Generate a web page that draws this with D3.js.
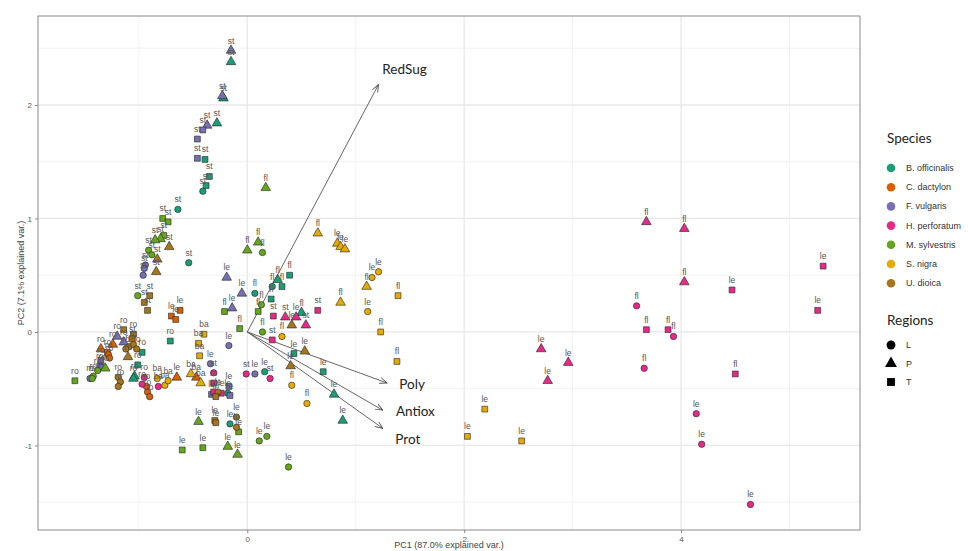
<!DOCTYPE html>
<html>
<head>
<meta charset="utf-8">
<script src="https://cdn.jsdelivr.net/npm/d3@7"></script>
<style>
  html, body { margin: 0; padding: 0; background: #fff; }
  svg { display: block; font-family: "Liberation Sans", Arial, sans-serif; }
</style>
</head>
<body>
<svg id="chart" width="968" height="551"></svg>
<script>
// ---- Species and region keys ----
const speciesNames = ["B. officinalis", "C. dactylon", "F. vulgaris", "H. perforatum",
                      "M. sylvestris", "S. nigra", "U. dioica"];
const speciesColors = ["#1B9E77", "#D95F02", "#7570B3", "#E7298A", "#66A61E", "#E6AB02", "#A6761D"];
const regionNames = ["L", "P", "T"];

// ---- PCA scores per species: [PC1, PC2, region, organ] ----
const bOfficinalis = [
  [-0.15, 2.38, "P", "st"], [-0.22, 2.06, "P", "st"], [-0.28, 1.84, "P", "st"],
  [-0.39, 1.52, "T", "st"], [-0.35, 1.37, "T", "st"], [-0.38, 1.29, "T", "st"],
  [-0.41, 1.24, "L", "st"], [-0.64, 1.08, "L", "st"], [-0.54, 0.61, "L", "st"],
  [-0.71, -0.08, "T", "ro"], [-0.97, -0.18, "T", "ro"], [-1.01, -0.29, "T", "ro"],
  [-1.04, -0.39, "P", "ro"], [-1.05, -0.41, "P", "ro"], [-0.18, -0.54, "L", "le"],
  [-0.16, -0.81, "L", "le"], [0.39, 0.50, "T", "fl"], [0.28, 0.46, "P", "fl"],
  [0.32, 0.40, "T", "fl"], [0.23, 0.40, "L", "fl"], [0.07, 0.34, "L", "fl"],
  [0.22, 0.29, "T", "fl"], [0.50, 0.17, "P", "fl"], [0.43, -0.19, "T", "le"],
  [0.70, -0.35, "T", "le"], [0.80, -0.55, "P", "le"], [0.88, -0.78, "P", "le"],
  [0.16, -0.35, "L", "le"]
];
const cDactylon = [
  [-0.62, 0.19, "T", "le"], [-0.70, 0.14, "T", "le"], [-0.66, 0.11, "T", "le"],
  [-1.35, -0.15, "P", "ro"], [-1.24, -0.11, "P", "ro"], [-1.29, -0.18, "T", "ro"],
  [-1.28, -0.20, "L", "ro"], [-1.27, -0.23, "L", "ro"], [-0.93, -0.48, "L", "ro"],
  [-0.92, -0.53, "L", "ro"], [-0.90, -0.57, "L", "ro"], [-0.65, -0.40, "P", "le"],
  [-0.47, -0.40, "P", "ba"]
];
const fVulgaris = [
  [-0.15, 2.48, "P", "st"], [-0.23, 2.08, "P", "st"], [-0.37, 1.82, "P", "st"],
  [-0.41, 1.78, "T", "st"], [-0.46, 1.70, "T", "st"], [-0.46, 1.53, "T", "st"],
  [-0.94, 0.59, "L", "st"], [-0.95, 0.56, "L", "st"], [-0.96, 0.50, "L", "st"],
  [-0.19, 0.48, "P", "le"], [-0.14, 0.21, "P", "le"], [-0.05, 0.34, "P", "le"],
  [-0.17, -0.12, "L", "le"], [-0.34, -0.28, "L", "le"], [-1.20, -0.04, "P", "ro"],
  [-1.14, -0.09, "P", "ro"], [-1.35, -0.25, "T", "ro"], [-1.36, -0.30, "T", "ro"],
  [-1.34, -0.31, "T", "ro"], [-1.45, -0.41, "L", "ro"], [-0.33, -0.55, "T", "le"],
  [-0.16, -0.56, "T", "le"], [-0.17, -0.48, "T", "le"], [0.07, -0.37, "L", "le"]
];
const hPerforatum = [
  [-0.95, -0.40, "L", "ro"], [-0.97, -0.46, "L", "ro"], [-0.82, -0.48, "L", "ba"],
  [-0.31, -0.36, "L", "st"], [-0.31, -0.45, "T", "ro"], [-0.31, -0.53, "T", "ro"],
  [-0.24, -0.54, "T", "le"], [0.24, 0.14, "T", "st"], [0.65, 0.19, "T", "st"],
  [0.35, 0.13, "P", "st"], [0.45, 0.13, "P", "le"], [0.54, 0.06, "P", "st"],
  [0.23, -0.07, "T", "st"], [-0.01, -0.37, "L", "st"], [0.21, -0.41, "L", "st"],
  [2.71, -0.15, "P", "le"], [2.96, -0.27, "P", "le"], [2.77, -0.43, "P", "le"],
  [3.68, 0.97, "P", "fl"], [4.03, 0.91, "P", "fl"], [4.03, 0.44, "P", "fl"],
  [4.47, 0.37, "T", "le"], [5.31, 0.58, "T", "le"], [5.26, 0.19, "T", "le"],
  [3.59, 0.23, "L", "fl"], [3.68, 0.02, "T", "fl"], [3.88, 0.02, "T", "fl"],
  [3.93, -0.04, "L", "fl"], [3.66, -0.32, "L", "fl"], [4.50, -0.37, "T", "fl"],
  [4.14, -0.72, "L", "le"], [4.19, -0.99, "L", "le"], [4.64, -1.52, "L", "le"]
];
const mSylvestris = [
  [-0.78, 1.00, "T", "st"], [-0.73, 0.97, "T", "st"], [-0.77, 0.85, "T", "st"],
  [-0.80, 0.82, "P", "st"], [-0.85, 0.81, "P", "st"], [-0.91, 0.72, "L", "st"],
  [-0.88, 0.68, "L", "st"], [-1.01, 0.32, "L", "st"], [-0.21, 0.18, "T", "fl"],
  [-1.31, -0.32, "P", "ro"], [-1.38, -0.34, "L", "ro"], [-1.42, -0.39, "L", "ro"],
  [-1.43, -0.41, "L", "ro"], [-1.59, -0.43, "T", "ro"], [-0.45, -0.79, "P", "le"],
  [-0.08, -0.88, "T", "le"], [0.11, -0.96, "L", "le"], [0.18, -0.92, "L", "le"],
  [-0.60, -1.04, "T", "le"], [-0.41, -1.02, "T", "le"], [-0.18, -1.01, "P", "le"],
  [-0.09, -1.08, "P", "le"], [0.38, -1.19, "L", "le"], [0.00, 0.72, "P", "fl"],
  [0.10, 0.79, "P", "fl"], [0.14, 0.70, "L", "fl"], [0.17, 1.27, "P", "fl"],
  [0.13, 0.24, "L", "fl"], [0.10, 0.18, "T", "fl"], [-0.07, 0.03, "T", "fl"],
  [0.14, 0.00, "L", "fl"]
];
const sNigra = [
  [-0.40, -0.02, "T", "ba"], [-0.45, -0.10, "T", "ba"], [-0.44, -0.21, "T", "ba"],
  [-0.83, -0.41, "L", "ba"], [-0.76, -0.47, "L", "ba"], [-0.73, -0.43, "L", "ba"],
  [-0.52, -0.37, "P", "ba"], [-0.43, -0.45, "P", "ba"], [0.65, 0.87, "P", "fl"],
  [0.83, 0.78, "P", "le"], [0.86, 0.75, "P", "le"], [0.90, 0.73, "P", "le"],
  [1.21, 0.53, "L", "le"], [1.15, 0.48, "L", "le"], [1.10, 0.40, "P", "fl"],
  [1.39, 0.32, "T", "fl"], [1.11, 0.18, "L", "le"], [1.23, 0.00, "T", "fl"],
  [1.38, -0.26, "T", "fl"], [0.86, 0.26, "P", "fl"], [0.32, -0.04, "L", "fl"],
  [0.41, -0.47, "L", "fl"], [0.55, -0.63, "L", "fl"], [2.19, -0.68, "T", "le"],
  [2.03, -0.92, "T", "le"], [2.53, -0.96, "T", "le"]
];
const uDioica = [
  [-0.72, 0.75, "P", "st"], [-0.83, 0.64, "P", "st"], [-0.84, 0.53, "P", "st"],
  [-0.90, 0.32, "T", "st"], [-0.95, 0.26, "T", "st"], [-0.92, 0.19, "T", "st"],
  [-1.14, 0.02, "T", "ro"], [-1.05, -0.02, "T", "ro"], [-1.06, -0.06, "T", "st"],
  [-1.09, -0.13, "L", "ro"], [-1.05, -0.11, "L", "ro"], [-1.12, -0.15, "L", "ro"],
  [-1.02, -0.15, "L", "ro"], [-1.10, -0.22, "P", "ro"], [-1.19, -0.40, "L", "ro"],
  [-1.17, -0.44, "L", "ro"], [-1.19, -0.48, "L", "ro"], [-0.27, -0.53, "L", "le"],
  [-0.29, -0.57, "T", "le"], [-0.30, -0.78, "T", "le"], [-0.29, -0.80, "T", "le"],
  [-0.10, -0.75, "L", "le"], [-0.10, -0.84, "L", "le"], [0.41, 0.06, "P", "le"],
  [0.53, -0.17, "P", "le"], [0.40, -0.30, "P", "le"]
];

// ---- Variable loadings (arrow tips) and their label anchors ----
const varNames = ["RedSug", "Poly", "Antiox", "Prot"];
const varTips = [[1.21, 2.18], [1.29, -0.45], [1.25, -0.69], [1.25, -0.85]];
const varLabelPos = [[1.45, 2.32], [1.52, -0.46], [1.55, -0.70], [1.48, -0.94]];

// ---- Axis ticks ----
const xMajorTicks = [0, 2, 4];
const xMinorTicks = [-1, 1, 3, 5];
const yMajorTicks = [-1, 0, 1, 2];
const yMinorTicks = [-1.5, -0.5, 0.5, 1.5, 2.5];
const xTitle = "PC1 (87.0% explained var.)";
const yTitle = "PC2 (7.1% explained var.)";

// ---- Build the sample table ----
const speciesScores = [bOfficinalis, cDactylon, fVulgaris, hPerforatum, mSylvestris, sNigra, uDioica];
const samples = [];
speciesScores.forEach((rows, si) => {
  rows.forEach(r => samples.push({ pc1: r[0], pc2: r[1], region: r[2], organ: r[3], species: speciesNames[si] }));
});

// ---- Layout ----
const svg = d3.select("#chart");
const panel = { left: 38, right: 860, top: 16, bottom: 530 };
const x = d3.scaleLinear().domain([-1.93, 5.65]).range([panel.left, panel.right]);
const y = d3.scaleLinear().domain([-1.745, 2.784]).range([panel.bottom, panel.top]);
const color = d3.scaleOrdinal().domain(speciesNames).range(speciesColors);
const shapeType = d3.scaleOrdinal().domain(regionNames).range([d3.symbolCircle, d3.symbolTriangle, d3.symbolSquare]);
const shapeSize = d3.scaleOrdinal().domain(regionNames).range([32, 40, 34]);

// Panel background
svg.append("rect")
  .attr("x", panel.left).attr("y", panel.top)
  .attr("width", panel.right - panel.left).attr("height", panel.bottom - panel.top)
  .attr("fill", "#fff");

// Grid lines
const grid = svg.append("g");
grid.selectAll(".xminor").data(xMinorTicks).join("line")
  .attr("x1", d => x(d)).attr("x2", d => x(d))
  .attr("y1", panel.top).attr("y2", panel.bottom)
  .attr("stroke", "#f2f2f2").attr("stroke-width", 1);
grid.selectAll(".yminor").data(yMinorTicks).join("line")
  .attr("y1", d => y(d)).attr("y2", d => y(d))
  .attr("x1", panel.left).attr("x2", panel.right)
  .attr("stroke", "#f2f2f2").attr("stroke-width", 1);
grid.selectAll(".xmajor").data(xMajorTicks).join("line")
  .attr("x1", d => x(d)).attr("x2", d => x(d))
  .attr("y1", panel.top).attr("y2", panel.bottom)
  .attr("stroke", "#e8e8e8").attr("stroke-width", 1.3);
grid.selectAll(".ymajor").data(yMajorTicks).join("line")
  .attr("y1", d => y(d)).attr("y2", d => y(d))
  .attr("x1", panel.left).attr("x2", panel.right)
  .attr("stroke", "#e8e8e8").attr("stroke-width", 1.3);

// Axes
const xAxis = svg.append("g").attr("transform", `translate(0,${panel.bottom})`)
  .call(d3.axisBottom(x).tickValues(xMajorTicks).tickSize(3).tickPadding(3).tickFormat(d3.format("d")));
const yAxis = svg.append("g").attr("transform", `translate(${panel.left},0)`)
  .call(d3.axisLeft(y).tickValues(yMajorTicks).tickSize(3).tickPadding(3).tickFormat(d => d < 0 ? "-" + Math.abs(d) : d));
[xAxis, yAxis].forEach(a => {
  a.select(".domain").remove();
  a.selectAll(".tick line").attr("stroke", "#888");
  a.selectAll(".tick text").attr("fill", "#555").attr("font-size", 8).attr("font-family", "Liberation Sans, Arial, sans-serif");
});

// Loading arrows
svg.append("defs").append("marker")
  .attr("id", "arrowhead").attr("viewBox", "0 0 8 8")
  .attr("refX", 7.5).attr("refY", 4)
  .attr("markerWidth", 8).attr("markerHeight", 8)
  .attr("markerUnits", "userSpaceOnUse")
  .attr("orient", "auto")
  .append("path").attr("d", "M0,1 L7.5,4 L0,7")
  .attr("fill", "none").attr("stroke", "#555").attr("stroke-width", 0.9);

svg.append("g").selectAll("line").data(varTips).join("line")
  .attr("x1", x(0)).attr("y1", y(0))
  .attr("x2", d => x(d[0])).attr("y2", d => y(d[1]))
  .attr("stroke", "#555").attr("stroke-width", 0.9)
  .attr("marker-end", "url(#arrowhead)");

// Sample points
svg.append("g").selectAll("path").data(samples).join("path")
  .attr("transform", d => `translate(${x(d.pc1)},${y(d.pc2)})`)
  .attr("d", d => d3.symbol().type(shapeType(d.region)).size(shapeSize(d.region))())
  .attr("fill", d => color(d.species))
  .attr("stroke", "#222").attr("stroke-width", 0.6);

// Organ labels above each point
svg.append("g").selectAll("text").data(samples).join("text")
  .attr("x", d => x(d.pc1)).attr("y", d => y(d.pc2) - 7)
  .attr("text-anchor", "middle")
  .attr("font-size", 8.5)
  .attr("fill", "#555")
  .text(d => d.organ);

// Variable names
svg.append("g").selectAll("text").data(varNames).join("text")
  .attr("x", (d, i) => x(varLabelPos[i][0])).attr("y", (d, i) => y(varLabelPos[i][1]))
  .attr("text-anchor", "middle").attr("dominant-baseline", "central")
  .attr("font-family", "Lato, 'Open Sans', sans-serif")
  .attr("font-size", 13.5).attr("fill", "#222")
  .text(d => d);

// Panel border
svg.append("rect")
  .attr("x", panel.left).attr("y", panel.top)
  .attr("width", panel.right - panel.left).attr("height", panel.bottom - panel.top)
  .attr("fill", "none").attr("stroke", "#8a8a8a").attr("stroke-width", 1);

// Axis titles
svg.append("text")
  .attr("x", (panel.left + panel.right) / 2).attr("y", 545)
  .attr("text-anchor", "middle").attr("dominant-baseline", "central")
  .attr("font-size", 9).attr("fill", "#444")
  .text(xTitle);
svg.append("text")
  .attr("transform", `translate(21,${(panel.top + panel.bottom) / 2}) rotate(-90)`)
  .attr("text-anchor", "middle").attr("dominant-baseline", "central")
  .attr("font-size", 9).attr("fill", "#444")
  .text(yTitle);

// Legends
const legend = svg.append("g");
legend.append("text").attr("x", 887).attr("y", 138)
  .attr("dominant-baseline", "central")
  .attr("font-family", "Lato, 'Open Sans', sans-serif").attr("font-size", 13.5).attr("fill", "#222")
  .text("Species");
const sItems = legend.selectAll(".sp").data(speciesNames).join("g")
  .attr("transform", (d, i) => `translate(891,${168 + i * 19.2})`);
sItems.append("circle").attr("r", 4.3).attr("fill", d => color(d));
sItems.append("text").attr("x", 15).attr("dominant-baseline", "central")
  .attr("font-size", 9).attr("fill", "#333").text(d => d);

legend.append("text").attr("x", 887).attr("y", 320)
  .attr("dominant-baseline", "central")
  .attr("font-family", "Lato, 'Open Sans', sans-serif").attr("font-size", 13.5).attr("fill", "#222")
  .text("Regions");
const rItems = legend.selectAll(".rg").data(regionNames).join("g")
  .attr("transform", (d, i) => `translate(891,${345 + i * 18.5})`);
rItems.append("path")
  .attr("d", d => d3.symbol().type(shapeType(d)).size(62)())
  .attr("fill", "#000");
rItems.append("text").attr("x", 15).attr("dominant-baseline", "central")
  .attr("font-size", 9).attr("fill", "#333").text(d => d);
</script>
</body>
</html>
